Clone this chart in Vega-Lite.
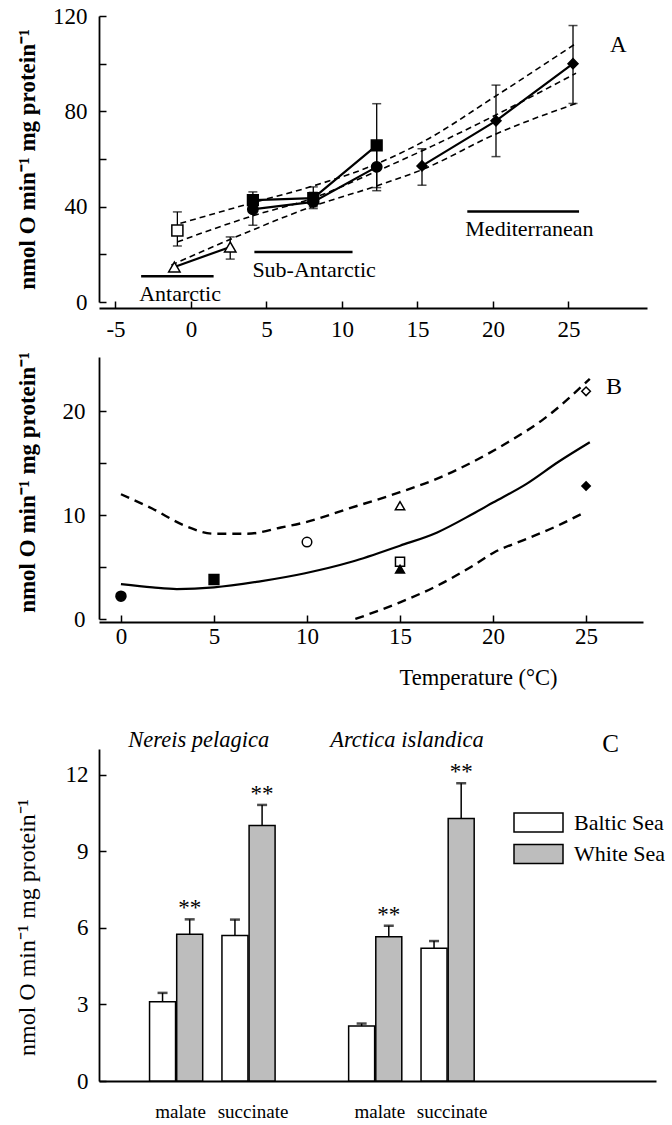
{
  "$schema": "https://vega.github.io/schema/vega-lite/v6.json",
  "background": "white",
  "padding": {"left": 15, "top": 5, "right": 5, "bottom": 5},
  "config": {
    "font": "Liberation Serif",
    "view": {"stroke": null},
    "axis": {"domainColor": "black", "domainWidth": 1.8, "tickColor": "black", "tickWidth": 1.5, "tickSize": -7, "labelColor": "black", "labelFont": "Liberation Serif", "labelFontSize": 23, "titleFont": "Liberation Serif", "titleColor": "black", "titleFontSize": 23, "grid": false, "labelOverlap": false, "labelFlush": false},
    "text": {"font": "Liberation Serif", "color": "black"}
  },
  "resolve": {"scale": {"x": "independent", "y": "independent", "shape": "independent", "fill": "independent", "size": "independent"}},
  "spacing": 10,
  "vconcat": [
    {
      "width": 548,
      "height": 286,
      "data": {"values": [
        {"series": "a", "temp": -1.1, "rate": 14.7, "lo": null, "hi": null},
        {"series": "a", "temp": 2.6, "rate": 23.1, "lo": 18.0, "hi": 27.3},
        {"series": "b", "temp": -0.9, "rate": 30.0, "lo": 23.5, "hi": 37.8},
        {"series": "c", "temp": 4.1, "rate": 42.7, "lo": 39.5, "hi": 46.2},
        {"series": "c", "temp": 8.1, "rate": 43.6, "lo": 40.0, "hi": 48.3},
        {"series": "c", "temp": 12.3, "rate": 65.7, "lo": 48.0, "hi": 83.2},
        {"series": "d", "temp": 4.1, "rate": 38.9, "lo": 32.2, "hi": 45.0},
        {"series": "d", "temp": 8.1, "rate": 42.0, "lo": 39.2, "hi": 46.0},
        {"series": "d", "temp": 12.3, "rate": 56.7, "lo": 46.7, "hi": 65.0},
        {"series": "e", "temp": 15.3, "rate": 57.1, "lo": 49.0, "hi": 64.3},
        {"series": "e", "temp": 20.2, "rate": 76.0, "lo": 61.0, "hi": 91.0},
        {"series": "e", "temp": 25.3, "rate": 100.0, "lo": 83.3, "hi": 116.0}
      ]},
      "layer": [
        {
          "data": {"values": [
            {"fit": "upper", "temp": -0.7, "rate": 33.0},
            {"fit": "upper", "temp": 4, "rate": 41.5},
            {"fit": "upper", "temp": 8, "rate": 48.5},
            {"fit": "upper", "temp": 12.5, "rate": 58.5},
            {"fit": "upper", "temp": 15.3, "rate": 67.0},
            {"fit": "upper", "temp": 20.2, "rate": 86.5},
            {"fit": "upper", "temp": 25.5, "rate": 108.5},
            {"fit": "middle", "temp": -0.9, "rate": 25.2},
            {"fit": "middle", "temp": 4, "rate": 36.0},
            {"fit": "middle", "temp": 8, "rate": 43.4},
            {"fit": "middle", "temp": 12.2, "rate": 54.6},
            {"fit": "middle", "temp": 16, "rate": 65.5},
            {"fit": "middle", "temp": 20.2, "rate": 78.5},
            {"fit": "middle", "temp": 25.5, "rate": 96.0},
            {"fit": "lower", "temp": -1.3, "rate": 15.5},
            {"fit": "lower", "temp": 4, "rate": 30.0},
            {"fit": "lower", "temp": 8, "rate": 40.0},
            {"fit": "lower", "temp": 12.2, "rate": 48.5},
            {"fit": "lower", "temp": 15.3, "rate": 55.5},
            {"fit": "lower", "temp": 20.2, "rate": 70.5},
            {"fit": "lower", "temp": 25.5, "rate": 83.3}
          ]},
          "mark": {"type": "line", "strokeDash": [6, 4], "strokeWidth": 1.6, "color": "black", "interpolate": "monotone"},
          "encoding": {
            "x": {"field": "temp", "type": "quantitative", "scale": {"domain": [-6.09, 30.2], "nice": false, "zero": false},
                  "axis": {"values": [-5, 0, 5, 10, 15, 20, 25], "labelExpr": "'' + datum.value", "title": null, "offset": 6, "labelPadding": 17}},
            "y": {"field": "rate", "type": "quantitative", "scale": {"domain": [0, 120], "nice": false},
                  "axis": {"values": [0, 20, 40, 60, 80, 100, 120], "labelExpr": "datum.value % 40 == 0 ? '' + datum.value : ''", "title": "nmol O min⁻¹ mg protein⁻¹", "titleFontWeight": "bold", "titleFontSize": 23, "titleX": -72, "titleY": 143, "titleAngle": 270, "titleBaseline": "middle", "titleAlign": "center", "labelPadding": 19}},
            "detail": {"field": "fit"}
          }
        },
        {
          "data": {"values": [
            {"region": "Antarctic", "from": -3.3, "to": 1.5, "level": 10.8},
            {"region": "Sub-Antarctic", "from": 4.2, "to": 10.7, "level": 21.0},
            {"region": "Mediterranean", "from": 18.3, "to": 25.7, "level": 38.0}
          ]},
          "layer": [
            {"mark": {"type": "rule", "strokeWidth": 2.5, "color": "black"},
             "encoding": {"x": {"field": "from", "type": "quantitative"}, "x2": {"field": "to"}, "y": {"field": "level", "type": "quantitative"}}},
            {"mark": {"type": "text", "align": "left", "baseline": "middle", "dx": -2, "dy": 18, "fontSize": 22},
             "encoding": {"x": {"field": "from", "type": "quantitative"}, "y": {"field": "level", "type": "quantitative"}, "text": {"field": "region"}}}
          ]
        },
        {
          "transform": [{"filter": "datum.lo != null"}],
          "layer": [
            {"mark": {"type": "rule", "strokeWidth": 1.3, "color": "black"},
             "encoding": {"x": {"field": "temp", "type": "quantitative"}, "y": {"field": "lo", "type": "quantitative"}, "y2": {"field": "hi"}}},
            {"mark": {"type": "tick", "orient": "horizontal", "size": 9, "thickness": 1.5, "color": "black"},
             "encoding": {"x": {"field": "temp", "type": "quantitative"}, "y": {"field": "hi", "type": "quantitative"}}},
            {"mark": {"type": "tick", "orient": "horizontal", "size": 9, "thickness": 1.5, "color": "black"},
             "encoding": {"x": {"field": "temp", "type": "quantitative"}, "y": {"field": "lo", "type": "quantitative"}}}
          ]
        },
        {
          "mark": {"type": "line", "color": "black", "strokeWidth": 2.2},
          "encoding": {"x": {"field": "temp", "type": "quantitative"}, "y": {"field": "rate", "type": "quantitative"}, "detail": {"field": "series"}}
        },
        {
          "mark": {"type": "point", "filled": true, "stroke": "black", "strokeWidth": 1.5, "opacity": 1},
          "encoding": {
            "x": {"field": "temp", "type": "quantitative"},
            "y": {"field": "rate", "type": "quantitative"},
            "shape": {"field": "series", "type": "nominal", "scale": {"domain": ["a", "b", "c", "d", "e"], "range": ["triangle-up", "square", "square", "circle", "diamond"]}, "legend": null},
            "fill": {"field": "series", "type": "nominal", "scale": {"domain": ["a", "b", "c", "d", "e"], "range": ["white", "white", "black", "black", "black"]}, "legend": null},
            "size": {"field": "series", "type": "ordinal", "scale": {"domain": ["a", "b", "c", "d", "e"], "range": [130, 100, 110, 120, 210]}, "legend": null}
          }
        },
        {
          "data": {"values": [{}]},
          "mark": {"type": "text", "text": "A", "fontSize": 23, "baseline": "middle"},
          "encoding": {"x": {"datum": 28.3}, "y": {"datum": 108}}
        }
      ]
    },
    {
      "width": 544,
      "height": 262,
      "layer": [
        {
          "data": {"values": [
            {"curve": "fit", "temp": 0, "rate": 3.36},
            {"curve": "fit", "temp": 1.7, "rate": 3.04},
            {"curve": "fit", "temp": 3.0, "rate": 2.88},
            {"curve": "fit", "temp": 5.0, "rate": 3.04},
            {"curve": "fit", "temp": 7.4, "rate": 3.6},
            {"curve": "fit", "temp": 9.9, "rate": 4.4},
            {"curve": "fit", "temp": 12.4, "rate": 5.5},
            {"curve": "fit", "temp": 15.0, "rate": 7.05},
            {"curve": "fit", "temp": 17.0, "rate": 8.33},
            {"curve": "fit", "temp": 18.9, "rate": 10.1},
            {"curve": "fit", "temp": 20.0, "rate": 11.2},
            {"curve": "fit", "temp": 21.8, "rate": 13.0},
            {"curve": "fit", "temp": 23.5, "rate": 15.1},
            {"curve": "fit", "temp": 25.2, "rate": 17.0}
          ]},
          "mark": {"type": "line", "color": "black", "strokeWidth": 2.2, "interpolate": "monotone"},
          "encoding": {
            "x": {"field": "temp", "type": "quantitative", "scale": {"domain": [-1.18, 28.06], "nice": false, "zero": false},
                  "axis": {"values": [0, 5, 10, 15, 20, 25], "labelExpr": "'' + datum.value", "title": "Temperature (°C)", "titleFontWeight": "normal", "titleFontSize": 22.5, "titleX": 379, "titleY": 55, "titleBaseline": "middle", "titleAlign": "center", "titleAngle": 0, "offset": 3, "labelPadding": 10}},
            "y": {"field": "rate", "type": "quantitative", "scale": {"domain": [0, 25.2], "nice": false},
                  "axis": {"values": [0, 5, 10, 15, 20], "labelExpr": "datum.value % 10 == 0 ? '' + datum.value : ''", "title": "nmol O min⁻¹ mg protein⁻¹", "titleFontWeight": "bold", "titleFontSize": 23, "titleX": -72, "titleY": 125, "titleAngle": 270, "titleBaseline": "middle", "titleAlign": "center", "labelPadding": 21}}
          }
        },
        {
          "data": {"values": [
            {"curve": "upper", "temp": 0, "rate": 12.0},
            {"curve": "upper", "temp": 1.7, "rate": 10.6},
            {"curve": "upper", "temp": 3.4, "rate": 9.0},
            {"curve": "upper", "temp": 5.0, "rate": 8.2},
            {"curve": "upper", "temp": 6.8, "rate": 8.2},
            {"curve": "upper", "temp": 8.6, "rate": 8.8},
            {"curve": "upper", "temp": 9.9, "rate": 9.3},
            {"curve": "upper", "temp": 12.2, "rate": 10.6},
            {"curve": "upper", "temp": 15.0, "rate": 12.2},
            {"curve": "upper", "temp": 17.0, "rate": 13.5},
            {"curve": "upper", "temp": 18.9, "rate": 15.1},
            {"curve": "upper", "temp": 20.8, "rate": 17.0},
            {"curve": "upper", "temp": 22.7, "rate": 19.2},
            {"curve": "upper", "temp": 25.2, "rate": 23.1},
            {"curve": "lower", "temp": 12.6, "rate": 0.0},
            {"curve": "lower", "temp": 15.0, "rate": 1.6},
            {"curve": "lower", "temp": 17.0, "rate": 3.2},
            {"curve": "lower", "temp": 18.9, "rate": 5.1},
            {"curve": "lower", "temp": 20.05, "rate": 6.4},
            {"curve": "lower", "temp": 21.8, "rate": 7.7},
            {"curve": "lower", "temp": 23.5, "rate": 9.0},
            {"curve": "lower", "temp": 24.75, "rate": 10.1}
          ]},
          "mark": {"type": "line", "color": "black", "strokeWidth": 2.4, "strokeDash": [9, 6], "interpolate": "monotone"},
          "encoding": {"x": {"field": "temp", "type": "quantitative"}, "y": {"field": "rate", "type": "quantitative"}, "detail": {"field": "curve"}}
        },
        {
          "data": {"values": [
            {"species": "b1", "temp": 0, "rate": 2.2},
            {"species": "b2", "temp": 5, "rate": 3.8},
            {"species": "b3", "temp": 10, "rate": 7.4},
            {"species": "b4", "temp": 15, "rate": 10.9},
            {"species": "b5", "temp": 15, "rate": 5.5},
            {"species": "b6", "temp": 15, "rate": 4.8},
            {"species": "b7", "temp": 25, "rate": 21.9},
            {"species": "b8", "temp": 25, "rate": 12.8}
          ]},
          "mark": {"type": "point", "filled": true, "stroke": "black", "strokeWidth": 1.5, "opacity": 1},
          "encoding": {
            "x": {"field": "temp", "type": "quantitative"},
            "y": {"field": "rate", "type": "quantitative"},
            "shape": {"field": "species", "type": "nominal", "scale": {"domain": ["b1", "b2", "b3", "b4", "b5", "b6", "b7", "b8"], "range": ["circle", "square", "circle", "triangle-up", "square", "triangle-up", "diamond", "diamond"]}, "legend": null},
            "fill": {"field": "species", "type": "nominal", "scale": {"domain": ["b1", "b2", "b3", "b4", "b5", "b6", "b7", "b8"], "range": ["black", "black", "white", "white", "white", "black", "white", "black"]}, "legend": null},
            "size": {"field": "species", "type": "ordinal", "scale": {"domain": ["b1", "b2", "b3", "b4", "b5", "b6", "b7", "b8"], "range": [100, 70, 90, 130, 80, 120, 170, 190]}, "legend": null}
          }
        },
        {
          "data": {"values": [{}]},
          "mark": {"type": "text", "text": "B", "fontSize": 24, "baseline": "middle"},
          "encoding": {"x": {"datum": 26.5}, "y": {"datum": 22.3}}
        },
        {
          "data": {"values": [{}]},
          "mark": {"type": "text", "text": ".", "fontSize": 11, "opacity": 0, "baseline": "middle"},
          "encoding": {"x": {"datum": 0}, "y": {"datum": -8.95}}
        }
      ]
    },
    {
      "width": 557,
      "height": 332,
      "data": {"values": [
        {"species": "Nereis pelagica", "substrate": "malate", "sea": "Baltic Sea", "bar": "Nereis pelagica malate Baltic Sea", "value": 3.1, "upper": 3.45, "sig": ""},
        {"species": "Nereis pelagica", "substrate": "malate", "sea": "White Sea", "bar": "Nereis pelagica malate White Sea", "value": 5.75, "upper": 6.33, "sig": "**"},
        {"species": "Nereis pelagica", "substrate": "succinate", "sea": "Baltic Sea", "bar": "Nereis pelagica succinate Baltic Sea", "value": 5.7, "upper": 6.32, "sig": ""},
        {"species": "Nereis pelagica", "substrate": "succinate", "sea": "White Sea", "bar": "Nereis pelagica succinate White Sea", "value": 10.0, "upper": 10.81, "sig": "**"},
        {"species": "Arctica islandica", "substrate": "malate", "sea": "Baltic Sea", "bar": "Arctica islandica malate Baltic Sea", "value": 2.15, "upper": 2.25, "sig": ""},
        {"species": "Arctica islandica", "substrate": "malate", "sea": "White Sea", "bar": "Arctica islandica malate White Sea", "value": 5.65, "upper": 6.08, "sig": "**"},
        {"species": "Arctica islandica", "substrate": "succinate", "sea": "Baltic Sea", "bar": "Arctica islandica succinate Baltic Sea", "value": 5.2, "upper": 5.48, "sig": ""},
        {"species": "Arctica islandica", "substrate": "succinate", "sea": "White Sea", "bar": "Arctica islandica succinate White Sea", "value": 10.28, "upper": 11.66, "sig": "**"}
      ]},
      "layer": [
        {
          "mark": {"type": "bar", "width": 26, "stroke": "black", "strokeWidth": 1.5},
          "encoding": {
            "x": {"field": "bar", "type": "nominal",
                  "scale": {"domain": ["_0", "_1", "_2", "_3", "_4", "_5", "Nereis pelagica malate Baltic Sea", "_7", "_8", "Nereis pelagica malate White Sea", "_10", "_11", "_12", "_13", "Nereis pelagica succinate Baltic Sea", "_15", "_16", "Nereis pelagica succinate White Sea", "_18", "_19", "_20", "_21", "_22", "_23", "_24", "_25", "_26", "_27", "Arctica islandica malate Baltic Sea", "_29", "_30", "Arctica islandica malate White Sea", "_32", "_33", "_34", "_35", "Arctica islandica succinate Baltic Sea", "_37", "_38", "Arctica islandica succinate White Sea", "_40", "_41", "_42", "_43", "_44", "_45", "_46", "_47", "_48", "_49", "_50", "_51", "_52", "_53", "_54", "_55", "_56", "_57", "_58", "_59", "_60"], "paddingInner": 0, "paddingOuter": 0.275, "align": 0.95},
                  "axis": {"values": ["_8", "_16", "_30", "_38"], "bandPosition": 0, "labelExpr": "datum.value == '_8' || datum.value == '_30' ? 'malate' : 'succinate'", "ticks": false, "tickSize": 0, "labelPadding": 21, "labelFontSize": 19, "labelAngle": 0, "title": null, "domainWidth": 2}},
            "y": {"field": "value", "type": "quantitative", "scale": {"domain": [0, 13], "nice": false},
                  "axis": {"values": [0, 3, 6, 9, 12], "title": "nmol O min⁻¹ mg protein⁻¹", "titleFontWeight": "normal", "titleFontSize": 24, "titleX": -72, "titleY": 178, "titleAngle": 270, "titleBaseline": "middle", "titleAlign": "center", "labelPadding": 18, "labelFontSize": 23}},
            "fill": {"field": "sea", "type": "nominal", "scale": {"domain": ["Baltic Sea", "White Sea"], "range": ["white", "#bdbdbd"]},
                     "legend": {"orient": "none", "legendX": 428.5, "legendY": 62.5, "title": null, "symbolType": "M-2.45,-0.95H2.45V0.95H-2.45Z", "symbolSize": 400, "symbolStrokeColor": "black", "symbolStrokeWidth": 1.5, "labelFontSize": 22, "labelFont": "Liberation Serif", "labelColor": "black", "labelOffset": 24.5, "rowPadding": 5.5, "padding": 0}}
          }
        },
        {
          "mark": {"type": "rule", "strokeWidth": 1.5, "color": "black"},
          "encoding": {"x": {"field": "bar", "type": "nominal"}, "y": {"field": "value", "type": "quantitative"}, "y2": {"field": "upper"}}
        },
        {
          "mark": {"type": "tick", "orient": "horizontal", "size": 10, "thickness": 2.5, "color": "black"},
          "encoding": {"x": {"field": "bar", "type": "nominal"}, "y": {"field": "upper", "type": "quantitative"}}
        },
        {
          "mark": {"type": "text", "fontSize": 23, "baseline": "alphabetic", "dy": -4},
          "encoding": {"x": {"field": "bar", "type": "nominal"}, "y": {"field": "upper", "type": "quantitative"}, "text": {"field": "sig"}}
        },
        {
          "data": {"values": [{}]},
          "mark": {"type": "text", "text": "Nereis pelagica", "fontStyle": "italic", "fontSize": 22.5, "baseline": "middle"},
          "encoding": {"x": {"datum": "_10", "type": "nominal"}, "y": {"datum": 13.37, "type": "quantitative"}}
        },
        {
          "data": {"values": [{}]},
          "mark": {"type": "text", "text": "Arctica islandica", "fontStyle": "italic", "fontSize": 22.5, "baseline": "middle"},
          "encoding": {"x": {"datum": "_33", "type": "nominal"}, "y": {"datum": 13.37, "type": "quantitative"}}
        },
        {
          "data": {"values": [{}]},
          "mark": {"type": "text", "text": "C", "fontSize": 25, "baseline": "middle"},
          "encoding": {"x": {"datum": "_56", "type": "nominal", "bandPosition": 0}, "y": {"datum": 13.2, "type": "quantitative"}}
        }
      ]
    }
  ]
}
